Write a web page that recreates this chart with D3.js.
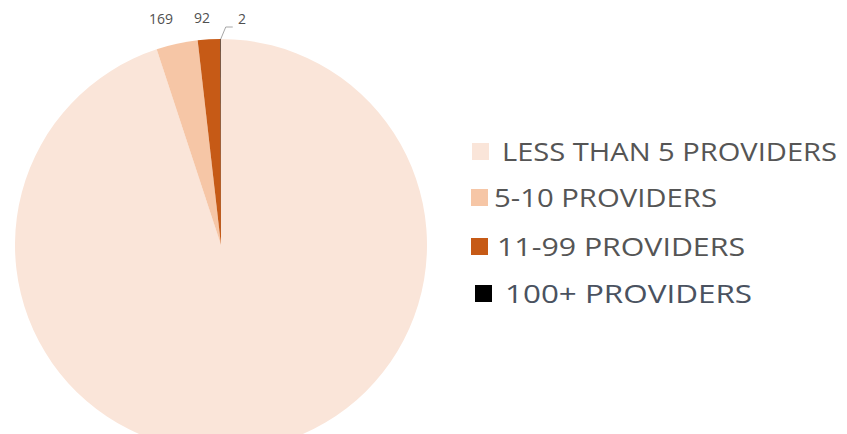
<!DOCTYPE html>
<html><head><meta charset="utf-8">
<script src="https://cdn.jsdelivr.net/npm/d3@7"></script>
<style>body{margin:0;background:#fff;}svg{display:block;}</style>
</head><body>
<svg id="c" width="847" height="434"></svg>
<script>
const categories = ["LESS THAN 5 PROVIDERS", "5-10 PROVIDERS", "11-99 PROVIDERS", "100+ PROVIDERS"];
const values = [4940, 169, 92, 2];
const labels = ["", "169", "92", "2"];
const colors = ["#FAE5D9", "#F6C6A6", "#C65A16", "#000000"];

const svg = d3.select("#c");
const cx = 221, cy = 245, r = 206;
const pie = d3.pie().sort(null).value(d => d)(values);
const arc = d3.arc().innerRadius(0).outerRadius(r);
const g = svg.append("g").attr("transform", `translate(${cx},${cy})`);
g.selectAll("path").data(pie).join("path")
  .attr("d", arc).attr("fill", (d, i) => colors[i]);

// data labels
const lblPos = [null, [161, 24], [202, 23], [242, 24]];
pie.forEach((d, i) => {
  if (!labels[i]) return;
  svg.append("text").attr("x", lblPos[i][0]).attr("y", lblPos[i][1])
    .attr("text-anchor", "middle").attr("font-family", "Open Sans, sans-serif")
    .attr("font-size", 14).attr("fill", "#505050").text(labels[i]);
});
// leader line for smallest slice
const last = pie[3];
const mid = (last.startAngle + last.endAngle) / 2;
const ex = cx + Math.sin(mid) * r, ey = cy - Math.cos(mid) * r;
svg.append("path").attr("d", `M${ex},${ey} L${ex + 5},${ey - 12} L${ex + 12},${ey - 12}`)
  .attr("fill", "none").attr("stroke", "#a6a6a6").attr("stroke-width", 1);

// legend
const legY = [161, 207, 256, 303];
const swX = [472, 471, 471, 475];
const txX = [502, 494, 497, 505];
const txW = [335, 223, 248, 247];
categories.forEach((c, i) => {
  svg.append("rect").attr("x", swX[i]).attr("y", legY[i] - 18).attr("width", 17).attr("height", 17)
    .attr("fill", colors[i]);
  svg.append("text").attr("x", txX[i]).attr("y", legY[i])
    .attr("font-family", "Open Sans, sans-serif").attr("font-size", 25)
    .attr("textLength", txW[i]).attr("lengthAdjust", "spacingAndGlyphs")
    .attr("fill", i === 3 ? "#4a5260" : "#555555").text(c);
});
</script>
</body></html>
